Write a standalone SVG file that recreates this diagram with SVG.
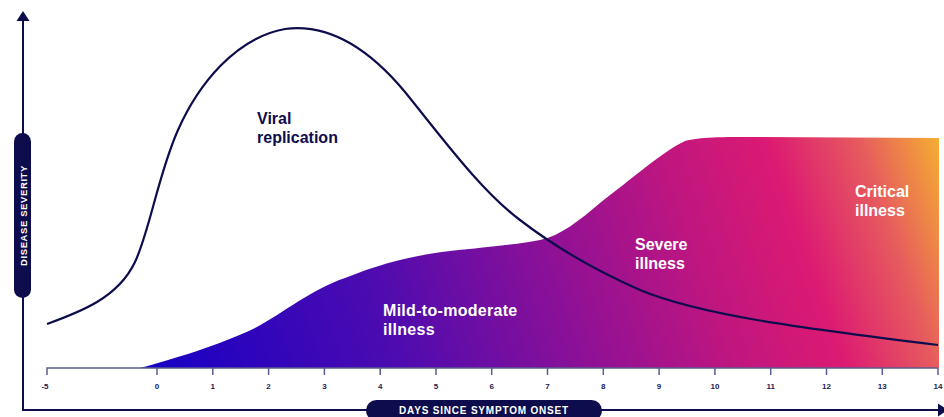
<svg xmlns="http://www.w3.org/2000/svg" width="944" height="417" viewBox="0 0 944 417">
<style>
.lbl{font-family:"Liberation Sans",Arial,sans-serif;font-weight:bold;font-size:16px}
.tick{font-family:"Liberation Sans",Arial,sans-serif;font-weight:bold;font-size:8px;fill:#1a1a55;text-anchor:middle}
.pill{fill:#0d0d4d}
.pilltxt{font-family:"Liberation Sans",Arial,sans-serif;font-weight:bold;font-size:10px;fill:#ffffff;text-anchor:middle}
.axis{fill:none;stroke:#0d0d4d;stroke-width:2}
.base{fill:none;stroke:#5a5c8e;stroke-width:1.5}
</style>
<defs>
<linearGradient id="sev" gradientUnits="userSpaceOnUse" x1="150" y1="420" x2="950" y2="150">
<stop offset="0" stop-color="#1300c6"/>
<stop offset="0.3" stop-color="#4d0bb0"/>
<stop offset="0.5" stop-color="#8a1098"/>
<stop offset="0.68" stop-color="#c0167f"/>
<stop offset="0.8" stop-color="#dc1a72"/>
<stop offset="0.9" stop-color="#e65a5e"/>
<stop offset="1" stop-color="#f6b52e"/>
</linearGradient>
</defs>

<g id="severity-area">
<path d="M140,368 C170,360 220,345 255,328 C285,312 310,290 345,278 C380,264 410,256 450,251 C490,247 520,244 540,240 C560,236 580,220 600,203 C630,180 665,150 685,141 C700,137 720,137 760,137 L939,138 L939,368 Z" fill="url(#sev)"/>
</g>

<g id="x-baseline">
<path class="base" d="M47,375 V368 H938"/>
<path class="base" d="M157,368V375 M212.8,368V375 M268.6,368V375 M324.4,368V375 M380.2,368V375 M436,368V375 M491.7,368V375 M547.5,368V375 M603.3,368V375 M659.1,368V375 M714.9,368V375 M770.7,368V375 M826.5,368V375 M882.3,368V375 M938,368V375"/>
<text class="tick" x="45" y="389">-5</text>
<text class="tick" x="157" y="389">0</text>
<text class="tick" x="212.8" y="389">1</text>
<text class="tick" x="268.6" y="389">2</text>
<text class="tick" x="324.4" y="389">3</text>
<text class="tick" x="380.2" y="389">4</text>
<text class="tick" x="436" y="389">5</text>
<text class="tick" x="491.7" y="389">6</text>
<text class="tick" x="547.5" y="389">7</text>
<text class="tick" x="603.3" y="389">8</text>
<text class="tick" x="659.1" y="389">9</text>
<text class="tick" x="714.9" y="389">10</text>
<text class="tick" x="770.7" y="389">11</text>
<text class="tick" x="826.5" y="389">12</text>
<text class="tick" x="882.3" y="389">13</text>
<text class="tick" x="938" y="389">14</text>
</g>

<g id="viral-curve">
<path d="M47,324 C80,312 118,298 135,262 C150,230 158,175 178,130 C198,85 235,38 285,29 C330,23 370,50 405,92 C440,135 480,190 520,220 C555,247 590,268 640,290 C700,315 800,328 938,345" fill="none" stroke="#0d0d4d" stroke-width="2.2"/>
</g>

<g id="axes">
<path class="axis" d="M23,20 V410 H939"/>
<polygon points="23,11 16.5,21 29.5,21" fill="#0d0d4d"/>
<polygon points="938,403.5 938,416.5 948,410" fill="#0d0d4d"/>
</g>

<g id="y-label">
<rect class="pill" x="14" y="133" width="17" height="165" rx="8.5"/>
<text class="pilltxt" transform="translate(26.5,215.5) rotate(-90)" style="font-size:9.5px;letter-spacing:0.6px">DISEASE SEVERITY</text>
</g>

<g id="x-label">
<rect class="pill" x="366" y="400" width="236" height="21" rx="10.5"/>
<text class="pilltxt" x="484" y="414" style="letter-spacing:0.8px">DAYS SINCE SYMPTOM ONSET</text>
</g>

<g id="label-viral">
<text class="lbl" fill="#0d0d4d"><tspan x="257" y="124">Viral</tspan><tspan x="257" y="143">replication</tspan></text>
</g>
<g id="label-mild">
<text class="lbl" fill="#ffffff" style="letter-spacing:0.3px"><tspan x="383" y="316">Mild-to-moderate</tspan><tspan x="383" y="335">illness</tspan></text>
</g>
<g id="label-severe">
<text class="lbl" fill="#ffffff"><tspan x="635" y="250">Severe</tspan><tspan x="635" y="269">illness</tspan></text>
</g>
<g id="label-critical">
<text class="lbl" fill="#ffffff"><tspan x="855" y="197">Critical</tspan><tspan x="855" y="216">illness</tspan></text>
</g>
</svg>
